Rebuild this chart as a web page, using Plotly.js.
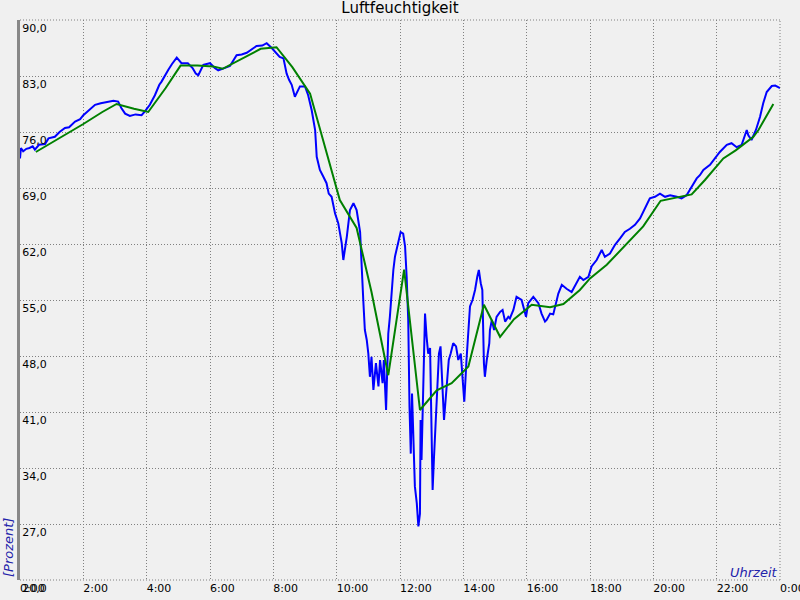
<!DOCTYPE html>
<html>
<head>
<meta charset="utf-8">
<script src="https://cdn.plot.ly/plotly-3.0.1.min.js"></script>
<style>html,body{margin:0;padding:0;background:#f0f0f0;}#chart{width:800px;height:600px;}</style>
</head>
<body>
<div id="chart"></div>
<script>
// Time in decimal hours (0 = 0:00, 24 = 0:00 next day)
var blueTimes = [0.00,0.03,0.1,0.2,0.3,0.4,0.47,0.6,0.79,0.9,1.1,1.25,1.42,1.55,1.74,1.9,2.0,2.2,2.37,2.55,2.79,2.95,3.1,3.2,3.32,3.47,3.65,3.84,3.95,4.1,4.26,4.4,4.47,4.6,4.68,4.8,4.95,5.1,5.3,5.45,5.55,5.63,5.79,6.0,6.15,6.26,6.45,6.63,6.84,7.0,7.16,7.3,7.47,7.65,7.79,7.95,8.1,8.2,8.32,8.42,8.5,8.58,8.68,8.75,8.84,9.0,9.1,9.21,9.32,9.37,9.47,9.58,9.68,9.75,9.84,9.95,10.05,10.16,10.21,10.32,10.42,10.53,10.63,10.68,10.74,10.84,10.89,10.95,11.0,11.05,11.1,11.16,11.24,11.32,11.37,11.45,11.49,11.56,11.63,11.68,11.74,11.79,11.84,11.89,11.95,12.02,12.1,12.16,12.21,12.26,12.3,12.34,12.38,12.42,12.47,12.53,12.58,12.63,12.65,12.68,12.74,12.79,12.84,12.89,12.95,13.0,13.03,13.07,13.14,13.18,13.23,13.28,13.34,13.39,13.44,13.49,13.54,13.6,13.68,13.77,13.84,13.92,13.98,14.03,14.1,14.16,14.21,14.29,14.37,14.44,14.49,14.55,14.6,14.65,14.68,14.74,14.82,14.84,14.9,14.97,15.05,15.16,15.24,15.32,15.42,15.47,15.58,15.68,15.84,15.98,16.05,16.21,16.37,16.47,16.58,16.63,16.74,16.84,16.95,17.0,17.11,17.26,17.42,17.58,17.68,17.79,17.95,18.05,18.21,18.37,18.47,18.63,18.79,18.95,19.1,19.26,19.42,19.58,19.74,19.89,20.05,20.21,20.37,20.53,20.74,20.89,21.05,21.26,21.37,21.47,21.58,21.79,21.95,22.1,22.32,22.47,22.63,22.79,22.95,23.0,23.1,23.24,23.37,23.47,23.58,23.74,23.85,24.0];
var blueValues = [72.7,74.0,73.6,73.9,74.0,74.2,73.8,74.4,74.5,75.2,75.4,76.0,76.5,76.6,77.3,77.6,78.1,78.8,79.4,79.6,79.8,79.9,79.8,79.0,78.3,78.0,78.2,78.1,78.6,79.4,80.6,81.9,82.3,83.3,83.75,84.5,85.3,84.6,84.6,84.0,83.3,83.1,84.4,84.6,84.0,83.7,84.0,84.25,85.6,85.7,85.9,86.3,86.75,86.8,87.1,86.5,85.8,85.4,85.2,83.3,82.5,81.9,80.4,81.0,81.7,81.7,80.6,78.75,76.25,72.9,71.25,70.4,69.6,68.3,67.9,65.8,64.6,62.1,60.0,62.9,66.25,67.1,66.25,65.0,63.5,55.0,51.25,50.0,48.3,45.4,47.9,43.75,47.1,44.2,47.5,44.6,47.5,41.25,50.8,52.9,56.7,58.75,60.4,61.25,62.5,63.5,63.3,61.7,57.9,52.5,41.7,35.8,43.3,37.9,31.7,29.6,26.7,28.3,40.0,35.0,47.5,53.3,50.4,48.3,49.0,36.25,31.25,35.0,40.8,44.2,48.3,49.2,45.0,40.0,42.5,45.0,47.5,48.3,49.6,49.2,47.5,48.3,44.2,42.3,47.5,50.8,54.2,55.0,56.25,57.9,58.75,57.1,56.25,47.1,45.4,47.5,49.6,51.25,52.5,51.25,52.9,53.5,53.75,52.3,52.9,52.7,53.75,55.4,55.0,52.9,54.6,55.4,54.6,53.3,52.3,52.5,53.3,53.2,55.0,55.8,56.9,56.4,56.0,57.3,57.9,57.5,57.9,59.2,60.0,61.25,60.4,60.8,61.9,62.7,63.5,63.9,64.4,65.2,66.5,67.7,67.9,68.3,67.9,68.1,67.9,67.7,68.1,69.4,70.2,70.6,71.25,71.9,72.7,73.5,74.4,74.6,74.1,74.4,76.25,75.6,75.0,76.25,77.9,79.6,81.0,81.75,81.8,81.5];

var greenTimes = [0.5,1.1,1.6,2.0,2.6,3.05,3.6,4.05,4.6,5.07,5.6,6.1,6.4,7.1,7.6,8.1,8.6,9.16,9.6,10.1,10.63,11.1,11.63,12.13,12.63,13.16,13.63,14.16,14.65,15.16,15.6,16.16,16.74,17.16,17.68,18.0,18.53,19.1,19.68,20.23,20.84,21.21,21.63,22.21,22.6,23.16,23.32,23.79];
var greenValues = [73.5,74.9,76.0,77.0,78.5,79.5,78.9,78.5,81.5,84.3,84.3,84.2,83.9,85.3,86.4,86.6,84.1,80.8,74.6,67.5,64.0,56.0,45.6,58.8,41.25,43.7,44.6,46.7,54.4,50.4,52.6,54.4,54.1,54.5,56.25,57.7,59.4,61.8,64.2,67.4,67.9,68.2,70.0,72.7,73.7,75.4,76.25,79.5];

var xTickVals = [0,2,4,6,8,10,12,14,16,18,20,22,24];
var xTickText = ["0:00","2:00","4:00","6:00","8:00","10:00","12:00","14:00","16:00","18:00","20:00","22:00","0:00"];
var yTickVals = [20,27,34,41,48,55,62,69,76,83,90];

var baseFont = {family: "DejaVu Sans", size: 11, color: "#000000"};
var gridDash = "1px,2px";
var gridColor = "#808080";

var traces = [
  {x: blueTimes, y: blueValues, type: "scatter", mode: "lines",
   line: {color: "#0000ff", width: 2}, hoverinfo: "none"},
  {x: greenTimes, y: greenValues, type: "scatter", mode: "lines",
   line: {color: "#008000", width: 2}, hoverinfo: "none"}
];

var edgeLine = {color: gridColor, width: 1, dash: gridDash};

var layout = {
  width: 800, height: 600,
  paper_bgcolor: "#f0f0f0", plot_bgcolor: "#f0f0f0",
  margin: {l: 20, r: 20, t: 20, b: 20, pad: 0},
  showlegend: false,
  separators: ", ",
  font: baseFont,
  title: {text: "Luftfeuchtigkeit", x: 0.5, xanchor: "center", y: 1 - 8/600, yref: "container", yanchor: "middle",
          font: {family: "DejaVu Sans", size: 15, color: "#000000"}},
  xaxis: {
    range: [0, 24], tickvals: xTickVals, ticktext: xTickText,
    showgrid: true, gridcolor: gridColor, griddash: gridDash, gridwidth: 1,
    zeroline: false, showline: false, ticks: "", ticklabelposition: "outside right",
    ticklabeloverflow: "allow",
    tickfont: baseFont, fixedrange: true
  },
  yaxis: {
    range: [20, 90], tickvals: yTickVals, tickformat: ".1f",
    showgrid: true, gridcolor: gridColor, griddash: gridDash, gridwidth: 1,
    zeroline: false, showline: true, linecolor: "#888888", linewidth: 3,
    ticks: "", ticklabelposition: "inside bottom",
    ticklabeloverflow: "allow",
    tickfont: baseFont, fixedrange: true
  },
  shapes: [
    {type: "line", xref: "paper", yref: "paper", x0: 0, x1: 1, y0: 1, y1: 1, line: edgeLine, layer: "below"},
    {type: "line", xref: "paper", yref: "paper", x0: 0, x1: 1, y0: 0, y1: 0, line: edgeLine, layer: "below"},
    {type: "line", xref: "paper", yref: "paper", x0: 1, x1: 1, y0: 0, y1: 1, line: edgeLine, layer: "below"}
  ],
  annotations: [
    {text: "[Prozent]", xref: "paper", yref: "paper", x: (8 - 20) / 760, y: (580 - 548) / 560,
     xanchor: "center", yanchor: "middle", textangle: -90, showarrow: false,
     font: {family: "DejaVu Sans", size: 13, color: "#2222aa", style: "italic"}},
    {text: "Uhrzeit", xref: "paper", yref: "paper", x: 1, y: (580 - 572) / 560,
     xanchor: "right", yanchor: "middle", showarrow: false,
     font: {family: "DejaVu Sans", size: 13, color: "#2222aa", style: "italic"}}
  ]
};

Plotly.newPlot("chart", traces, layout, {staticPlot: true, displayModeBar: false});
</script>
</body>
</html>
